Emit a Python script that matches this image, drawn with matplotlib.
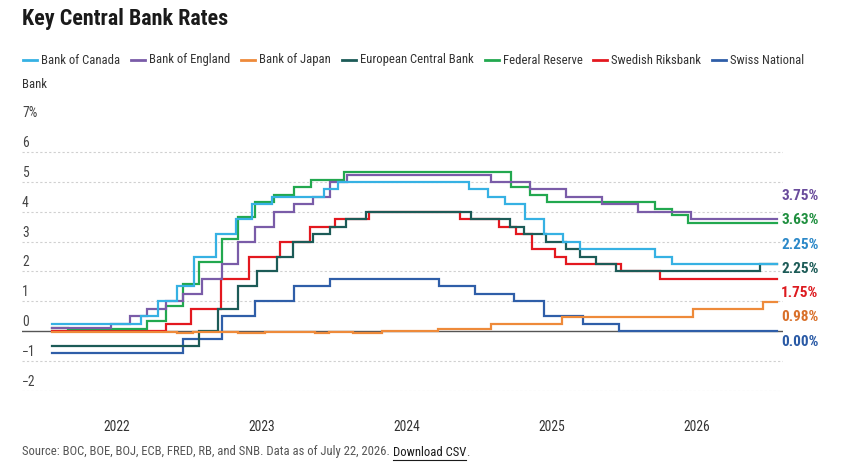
import matplotlib
matplotlib.use('Agg')
import matplotlib.pyplot as plt
from matplotlib import font_manager as fm
from matplotlib.lines import Line2D
from matplotlib.transforms import blended_transform_factory, offset_copy
import numpy as np
import pandas as pd

W, H = 855, 474

# ---------------- data ----------------

START = '2021-07-22'
END = '2026-07-22'

boc_dates = ['2021-07-22', '2022-03-03', '2022-04-14', '2022-06-02', '2022-07-14', '2022-09-08',
             '2022-10-27', '2022-12-08', '2023-01-26', '2023-06-08', '2023-07-13', '2024-06-06',
             '2024-07-25', '2024-09-05', '2024-10-24', '2024-12-12', '2025-01-30', '2025-03-13',
             '2025-09-18', '2025-10-30']
boc_rates = [0.25, 0.50, 1.00, 1.50, 2.50, 3.25, 3.75, 4.25, 4.50, 4.75, 5.00, 4.75,
             4.50, 4.25, 3.75, 3.25, 3.00, 2.75, 2.50, 2.25]

boe_dates = ['2021-07-22', '2021-12-16', '2022-02-03', '2022-03-17', '2022-05-05', '2022-06-16',
             '2022-08-04', '2022-09-22', '2022-11-03', '2022-12-15', '2023-02-02', '2023-03-23',
             '2023-05-11', '2023-06-22', '2023-08-03', '2024-08-01', '2024-11-07', '2025-02-06',
             '2025-05-08', '2025-08-07', '2025-12-18']
boe_rates = [0.10, 0.25, 0.50, 0.75, 1.00, 1.25, 1.75, 2.25, 3.00, 3.50, 4.00, 4.25,
             4.50, 5.00, 5.25, 5.00, 4.75, 4.50, 4.25, 4.00, 3.75]

boj_dates = ['2021-07-22', '2021-08-16', '2021-12-20', '2022-06-01', '2022-07-11', '2022-11-01',
             '2023-01-10', '2023-05-15', '2023-06-20', '2023-08-20', '2023-11-01', '2024-03-21',
             '2024-04-15', '2024-08-01', '2025-01-27', '2025-12-22', '2026-06-17']
boj_rates = [-0.02, -0.04, -0.02, -0.06, -0.02, -0.07, -0.02, -0.05, -0.02, -0.05, -0.01, 0.07,
             0.08, 0.23, 0.48, 0.73, 0.98]

ecb_dates = ['2021-07-22', '2022-07-27', '2022-09-14', '2022-11-02', '2022-12-21', '2023-02-08',
             '2023-03-22', '2023-05-10', '2023-06-21', '2023-08-02', '2023-09-20', '2024-06-12',
             '2024-09-18', '2024-10-23', '2024-12-18', '2025-02-05', '2025-03-12', '2025-04-23',
             '2025-06-11', '2026-06-10']
ecb_rates = [-0.50, 0.00, 0.75, 1.50, 2.00, 2.50, 3.00, 3.25, 3.50, 3.75, 4.00, 3.75,
             3.50, 3.25, 3.00, 2.75, 2.50, 2.25, 2.00, 2.25]

fed_dates = ['2021-07-22', '2021-09-01', '2022-03-17', '2022-05-05', '2022-06-16', '2022-07-28',
             '2022-09-22', '2022-11-03', '2022-12-15', '2023-02-02', '2023-03-23', '2023-05-04',
             '2023-07-27', '2024-09-19', '2024-11-08', '2024-12-19', '2025-09-18', '2025-10-30',
             '2025-12-11', '2026-06-01']
fed_rates = [0.10, 0.08, 0.33, 0.83, 1.58, 2.33, 3.08, 3.83, 4.33, 4.58, 4.83, 5.08,
             5.33, 4.83, 4.58, 4.33, 4.09, 3.88, 3.64, 3.63]

rb_dates = ['2021-07-22', '2022-05-04', '2022-07-06', '2022-09-21', '2022-11-30', '2023-02-15',
            '2023-05-03', '2023-07-05', '2023-09-27', '2024-05-15', '2024-08-21', '2024-10-02',
            '2024-11-13', '2025-01-08', '2025-02-05', '2025-06-25', '2025-10-01']
rb_rates = [0.00, 0.25, 0.75, 1.75, 2.50, 3.00, 3.50, 3.75, 4.00, 3.75, 3.50, 3.25,
            2.75, 2.50, 2.25, 2.00, 1.75]

snb_dates = ['2021-07-22', '2022-06-17', '2022-09-23', '2022-12-16', '2023-03-24', '2023-06-23',
             '2024-03-22', '2024-06-21', '2024-09-27', '2024-12-13', '2025-03-21', '2025-06-20']
snb_rates = [-0.75, -0.25, 0.50, 1.00, 1.50, 1.75, 1.50, 1.25, 1.00, 0.50, 0.25, 0.00]

banks = ['Bank of Canada', 'Bank of England', 'Bank of Japan', 'European Central Bank',
         'Federal Reserve', 'Swedish Riksbank', 'Swiss National Bank']
series_dates = [boc_dates, boe_dates, boj_dates, ecb_dates, fed_dates, rb_dates, snb_dates]
series_rates = [boc_rates, boe_rates, boj_rates, ecb_rates, fed_rates, rb_rates, snb_rates]

line_colors = ['#36b1e3', '#7a5ca8', '#ee8a3a', '#1c5b57', '#22a84f', '#e3181f', '#2f5ea8']
label_colors = ['#2b88c8', '#6a4c9c', '#d9702a', '#1c5b57', '#1f8f3f', '#dd1a1f', '#2a5aa5']

y_ticks = [-2, -1, 0, 1, 2, 3, 4, 5, 6, 7]
x_years = [2022, 2023, 2024, 2025, 2026]

# ---------------- fonts ----------------

def pick_font(bold):
    want = 700 if bold else 400
    for name in ['Roboto Condensed', 'Liberation Sans Narrow', 'DejaVu Sans', 'Noto Sans', 'Open Sans']:
        for f in fm.fontManager.ttflist:
            if f.name != name or f.style != 'normal':
                continue
            if 'condensed' not in str(f.stretch):
                continue
            w = f.weight if isinstance(f.weight, int) else fm.weight_dict.get(f.weight, 400)
            if abs(w - want) <= 100:
                return f.fname
    return None

REG = pick_font(False)
BOLD = pick_font(True)

def fp(size, bold=False):
    fname = BOLD if bold else REG
    if fname:
        return fm.FontProperties(fname=fname, size=size)
    return fm.FontProperties(family='Roboto', weight='bold' if bold else 'normal', size=size)

def fx(px):
    return px / W

def fy(py):
    return 1 - py / H

# ---------------- figure ----------------

fig = plt.figure(figsize=(W / 100, H / 100), dpi=100)
ax = fig.add_axes([fx(22), fy(390.7), (783.3 - 22) / W, (390.7 - 122.4) / H])

end = pd.Timestamp(END)
for dates, rates, c in reversed(list(zip(series_dates, series_rates, line_colors))):
    d = list(pd.to_datetime(dates)) + [end]
    r = list(rates) + [rates[-1]]
    ax.step(d, r, where='post', color=c, lw=1.6, zorder=3, solid_joinstyle='miter')

ax.set_xlim(pd.Timestamp(START) - pd.Timedelta(days=76), end + pd.Timedelta(days=16))
ax.set_ylim(min(y_ticks), max(y_ticks))

for v in y_ticks:
    if v == 0:
        ax.axhline(v, color='#555555', lw=1.0, zorder=2)
    elif v != max(y_ticks):
        ax.axhline(v, color='#d0d0d0', lw=0.8, ls=(0, (2, 2)), zorder=1)

for s in ax.spines.values():
    s.set_visible(False)
ax.set_yticks([])
ax.set_xticks([pd.Timestamp(f'{y}-01-01') for y in x_years])
ax.set_xticklabels([str(y) for y in x_years], fontproperties=fp(9.8), color='#333333')
ax.tick_params(axis='x', length=0, pad=21)

# y labels sit just above their gridlines
ytrans = offset_copy(blended_transform_factory(ax.transAxes, ax.transData), fig=fig, y=2, units='dots')
for v in y_ticks:
    s = f'{v}%' if v == max(y_ticks) else str(v).replace('-', '\u2212')
    ax.text(0, v, s, transform=ytrans, ha='left', va='bottom', fontproperties=fp(9.8), color='#444444')

# end labels, spread apart so they don't collide
last = np.array([r[-1] for r in series_rates], dtype=float)
gap = 24.3 / ((390.7 - 122.4) / 9)   # px -> data units
order = np.argsort(-last, kind='stable')
clusters = [[i] for i in order]
def cluster_pos(cl):
    c = np.mean([last[i] for i in cl])
    n = len(cl)
    return [c + gap * ((n - 1) / 2 - k) for k in range(n)]
changed = True
while changed:
    changed = False
    for k in range(len(clusters) - 1):
        a, b = cluster_pos(clusters[k]), cluster_pos(clusters[k + 1])
        if a[-1] - b[0] < gap:
            clusters[k] = clusters[k] + clusters[k + 1]
            del clusters[k + 1]
            changed = True
            break
label_y = {}
for cl in clusters:
    for i, y in zip(cl, cluster_pos(cl)):
        label_y[i] = y
ltrans = blended_transform_factory(fig.transFigure, ax.transData)
for i in range(len(banks)):
    ax.text(fx(781), label_y[i], f'{last[i]:.2f}%', transform=ltrans, ha='left', va='center',
            fontproperties=fp(11, bold=True), color=label_colors[i], clip_on=False)

# ---------------- title, legend, footer ----------------

fig.text(fx(22), fy(19.5), 'Key Central Bank Rates', ha='left', va='center',
         fontproperties=fp(15.8, bold=True), color='#1a1a1a')

renderer = fig.canvas.get_renderer()
def width_px(t):
    return t.get_window_extent(renderer=renderer).width

leg_fp = fp(9.1)
x, y = 22.7, 60
max_x = 818
for name, c in zip(banks, line_colors):
    fig.add_artist(Line2D([fx(x), fx(x + 14)], [fy(y), fy(y)], transform=fig.transFigure,
                          color=c, lw=2))
    x += 18
    t = fig.text(fx(x), fy(y), name, ha='left', va='center', fontproperties=leg_fp, color='#333333')
    words = name.split(' ')
    n = len(words)
    # wrap trailing words onto a new line, like the html legend does
    while x + width_px(t) > max_x and n > 1:
        n -= 1
        t.set_text(' '.join(words[:n]))
    if n < len(words):
        x, y = 22, y + 24
        t = fig.text(fx(x), fy(y), ' '.join(words[n:]), ha='left', va='center',
                     fontproperties=leg_fp, color='#333333')
    x += width_px(t) + 11

foot_fp = fp(9.1)
src = fig.text(fx(22), fy(452), 'Source: BOC, BOE, BOJ, ECB, FRED, RB, and SNB. Data as of July 22, 2026. ',
               ha='left', va='center', fontproperties=foot_fp, color='#555555')
sx = 22 + width_px(src)
dl = fig.text(fx(sx), fy(452), 'Download CSV', ha='left', va='center', fontproperties=foot_fp, color='#1a1a1a')
dw = width_px(dl)
fig.add_artist(Line2D([fx(sx), fx(sx + dw)], [fy(459.5), fy(459.5)], transform=fig.transFigure,
                      color='#1a1a1a', lw=0.8))
fig.text(fx(sx + dw), fy(452), '.', ha='left', va='center', fontproperties=foot_fp, color='#555555')

fig.savefig('out.png', dpi=100, facecolor='white')
